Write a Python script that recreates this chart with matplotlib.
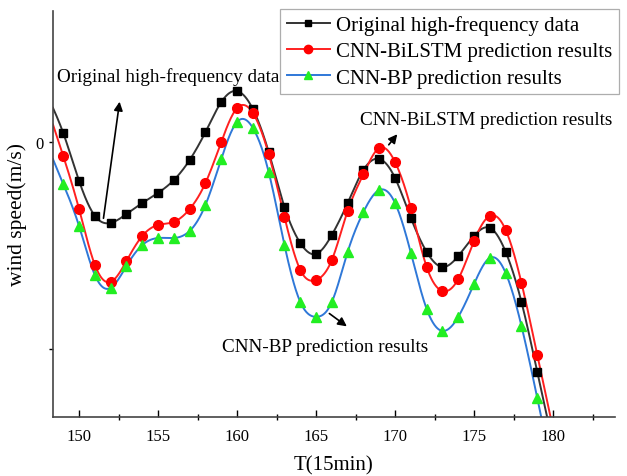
import numpy as np
import matplotlib
matplotlib.use("Agg")
import matplotlib.pyplot as plt
from matplotlib.lines import Line2D

plt.rcParams['font.family'] = ['Liberation Serif', 'DejaVu Serif']

# time steps (15 min)
t = np.arange(148, 181)

original = [2.22, 0.43, -1.88, -3.57, -3.91, -3.48, -2.95, -2.46, -1.84, -0.87, 0.48,
            1.93, 2.46, 1.59, -0.48, -3.14, -4.88, -5.41, -4.49, -2.95, -1.35, -0.82,
            -1.74, -3.67, -5.31, -6.04, -5.51, -4.54, -4.15, -5.31, -7.73, -11.11, -14.59]
bilstm = [1.64, -0.68, -3.24, -5.94, -6.76, -5.75, -4.54, -4.01, -3.86, -3.24, -1.98,
          0.00, 1.64, 1.40, -0.58, -3.62, -6.18, -6.67, -5.70, -3.33, -1.55, -0.29,
          -0.97, -3.19, -6.04, -7.20, -6.62, -4.78, -3.57, -4.25, -6.81, -10.29, -13.86]
bp = [-0.19, -2.03, -4.06, -6.43, -7.05, -5.99, -4.98, -4.64, -4.64, -4.30, -3.04,
      -0.82, 0.97, 0.68, -1.45, -4.98, -7.73, -8.45, -7.73, -5.31, -3.38, -2.32,
      -2.95, -5.36, -8.07, -9.13, -8.45, -6.86, -5.60, -6.33, -8.89, -12.37, -16.04]

labels = ["Original high-frequency data", "CNN-BiLSTM prediction results",
          "CNN-BP prediction results"]


def natural_spline(x, y, xs):
    """Natural cubic spline through (x, y), evaluated at xs"""
    x = np.asarray(x, float)
    y = np.asarray(y, float)
    n = len(x)
    h = np.diff(x)
    A = np.zeros((n, n))
    b = np.zeros(n)
    A[0, 0] = A[-1, -1] = 1.0
    for i in range(1, n - 1):
        A[i, i - 1] = h[i - 1]
        A[i, i] = 2 * (h[i - 1] + h[i])
        A[i, i + 1] = h[i]
        b[i] = 6 * ((y[i + 1] - y[i]) / h[i] - (y[i] - y[i - 1]) / h[i - 1])
    m = np.linalg.solve(A, b)
    idx = np.clip(np.searchsorted(x, xs) - 1, 0, n - 2)
    x0, x1 = x[idx], x[idx + 1]
    hh = x1 - x0
    a = (x1 - xs) / hh
    c = (xs - x0) / hh
    return (a * y[idx] + c * y[idx + 1]
            + ((a ** 3 - a) * m[idx] + (c ** 3 - c) * m[idx + 1]) * hh ** 2 / 6)


fig = plt.figure(figsize=(6.27, 4.77), dpi=100)
ax = fig.add_axes([53 / 627, 59 / 477, 562 / 627, 406 / 477])

ts = np.linspace(t[0], t[-1], 1200)
styles = [
    (original, '#333333', 's', '#000000', 6.0),
    (bilstm, '#ff2020', 'o', '#ff0000', 7.0),
    (bp, '#2f78d8', '^', '#22ee22', 6.5),
]
handles = []
for (vals, lc, mk, mc, ms), lab in zip(styles, labels):
    ax.plot(ts, natural_spline(t, vals, ts), color=lc, lw=1.4, zorder=2)
    ax.plot(t, vals, ls='none', marker=mk, ms=ms, color=mc, mec=mc, zorder=3)
    handles.append(Line2D([], [], color=lc, lw=1.4, marker=mk, ms=ms - 1,
                          mfc=mc, mec=mc, label=lab))

ax.set_xlim(148.35, 183.92)
ax.set_ylim(-13.29, 6.33)
ax.set_xticks([150, 155, 160, 165, 170, 175, 180])
ax.set_xticks(np.arange(152.5, 183, 5), minor=True)
ax.set_yticks([0, -10])
ax.set_yticklabels(["0", ""])
ax.tick_params(axis='x', which='major', direction='in', length=5, width=1, labelsize=12, pad=8)
ax.tick_params(axis='x', which='minor', direction='inout', length=4, width=1)
ax.tick_params(axis='y', direction='out', length=3, width=1, labelsize=12)
for s in ['top', 'right']:
    ax.spines[s].set_visible(False)
for s in ['left', 'bottom']:
    ax.spines[s].set_color('#444444')
    ax.spines[s].set_linewidth(1.2)

ax.set_xlabel("T(15min)", fontsize=15, labelpad=8)
ax.set_ylabel("wind speed(m/s)", fontsize=15.5, labelpad=6)

arrow = dict(arrowstyle='-|>', color='black', lw=1.2, mutation_scale=13)
ax.text(155.63, 3.19, labels[0], fontsize=13.8, ha='center', va='center')
ax.annotate('', xy=(152.59, 2.08), xytext=(151.52, -3.82), arrowprops=arrow)
ax.text(175.76, 1.11, labels[1], fontsize=13.8, ha='center', va='center')
ax.annotate('', xy=(170.25, 0.48), xytext=(169.49, -0.24), arrowprops=arrow)
ax.text(165.57, -9.86, labels[2], fontsize=13.8, ha='center', va='center')
ax.annotate('', xy=(167.09, -8.99), xytext=(165.70, -8.21), arrowprops=arrow)

leg = ax.legend(handles=handles, loc='upper right', bbox_to_anchor=(619 / 627, 1 - 10 / 477),
                bbox_transform=fig.transFigure, fontsize=15, frameon=True, fancybox=False,
                handlelength=2.1, handletextpad=0.3, borderpad=0.3, labelspacing=0.32,
                borderaxespad=0)
leg.get_frame().set_edgecolor('#999999')
leg.get_frame().set_linewidth(0.9)

fig.savefig("out.png", dpi=100)
